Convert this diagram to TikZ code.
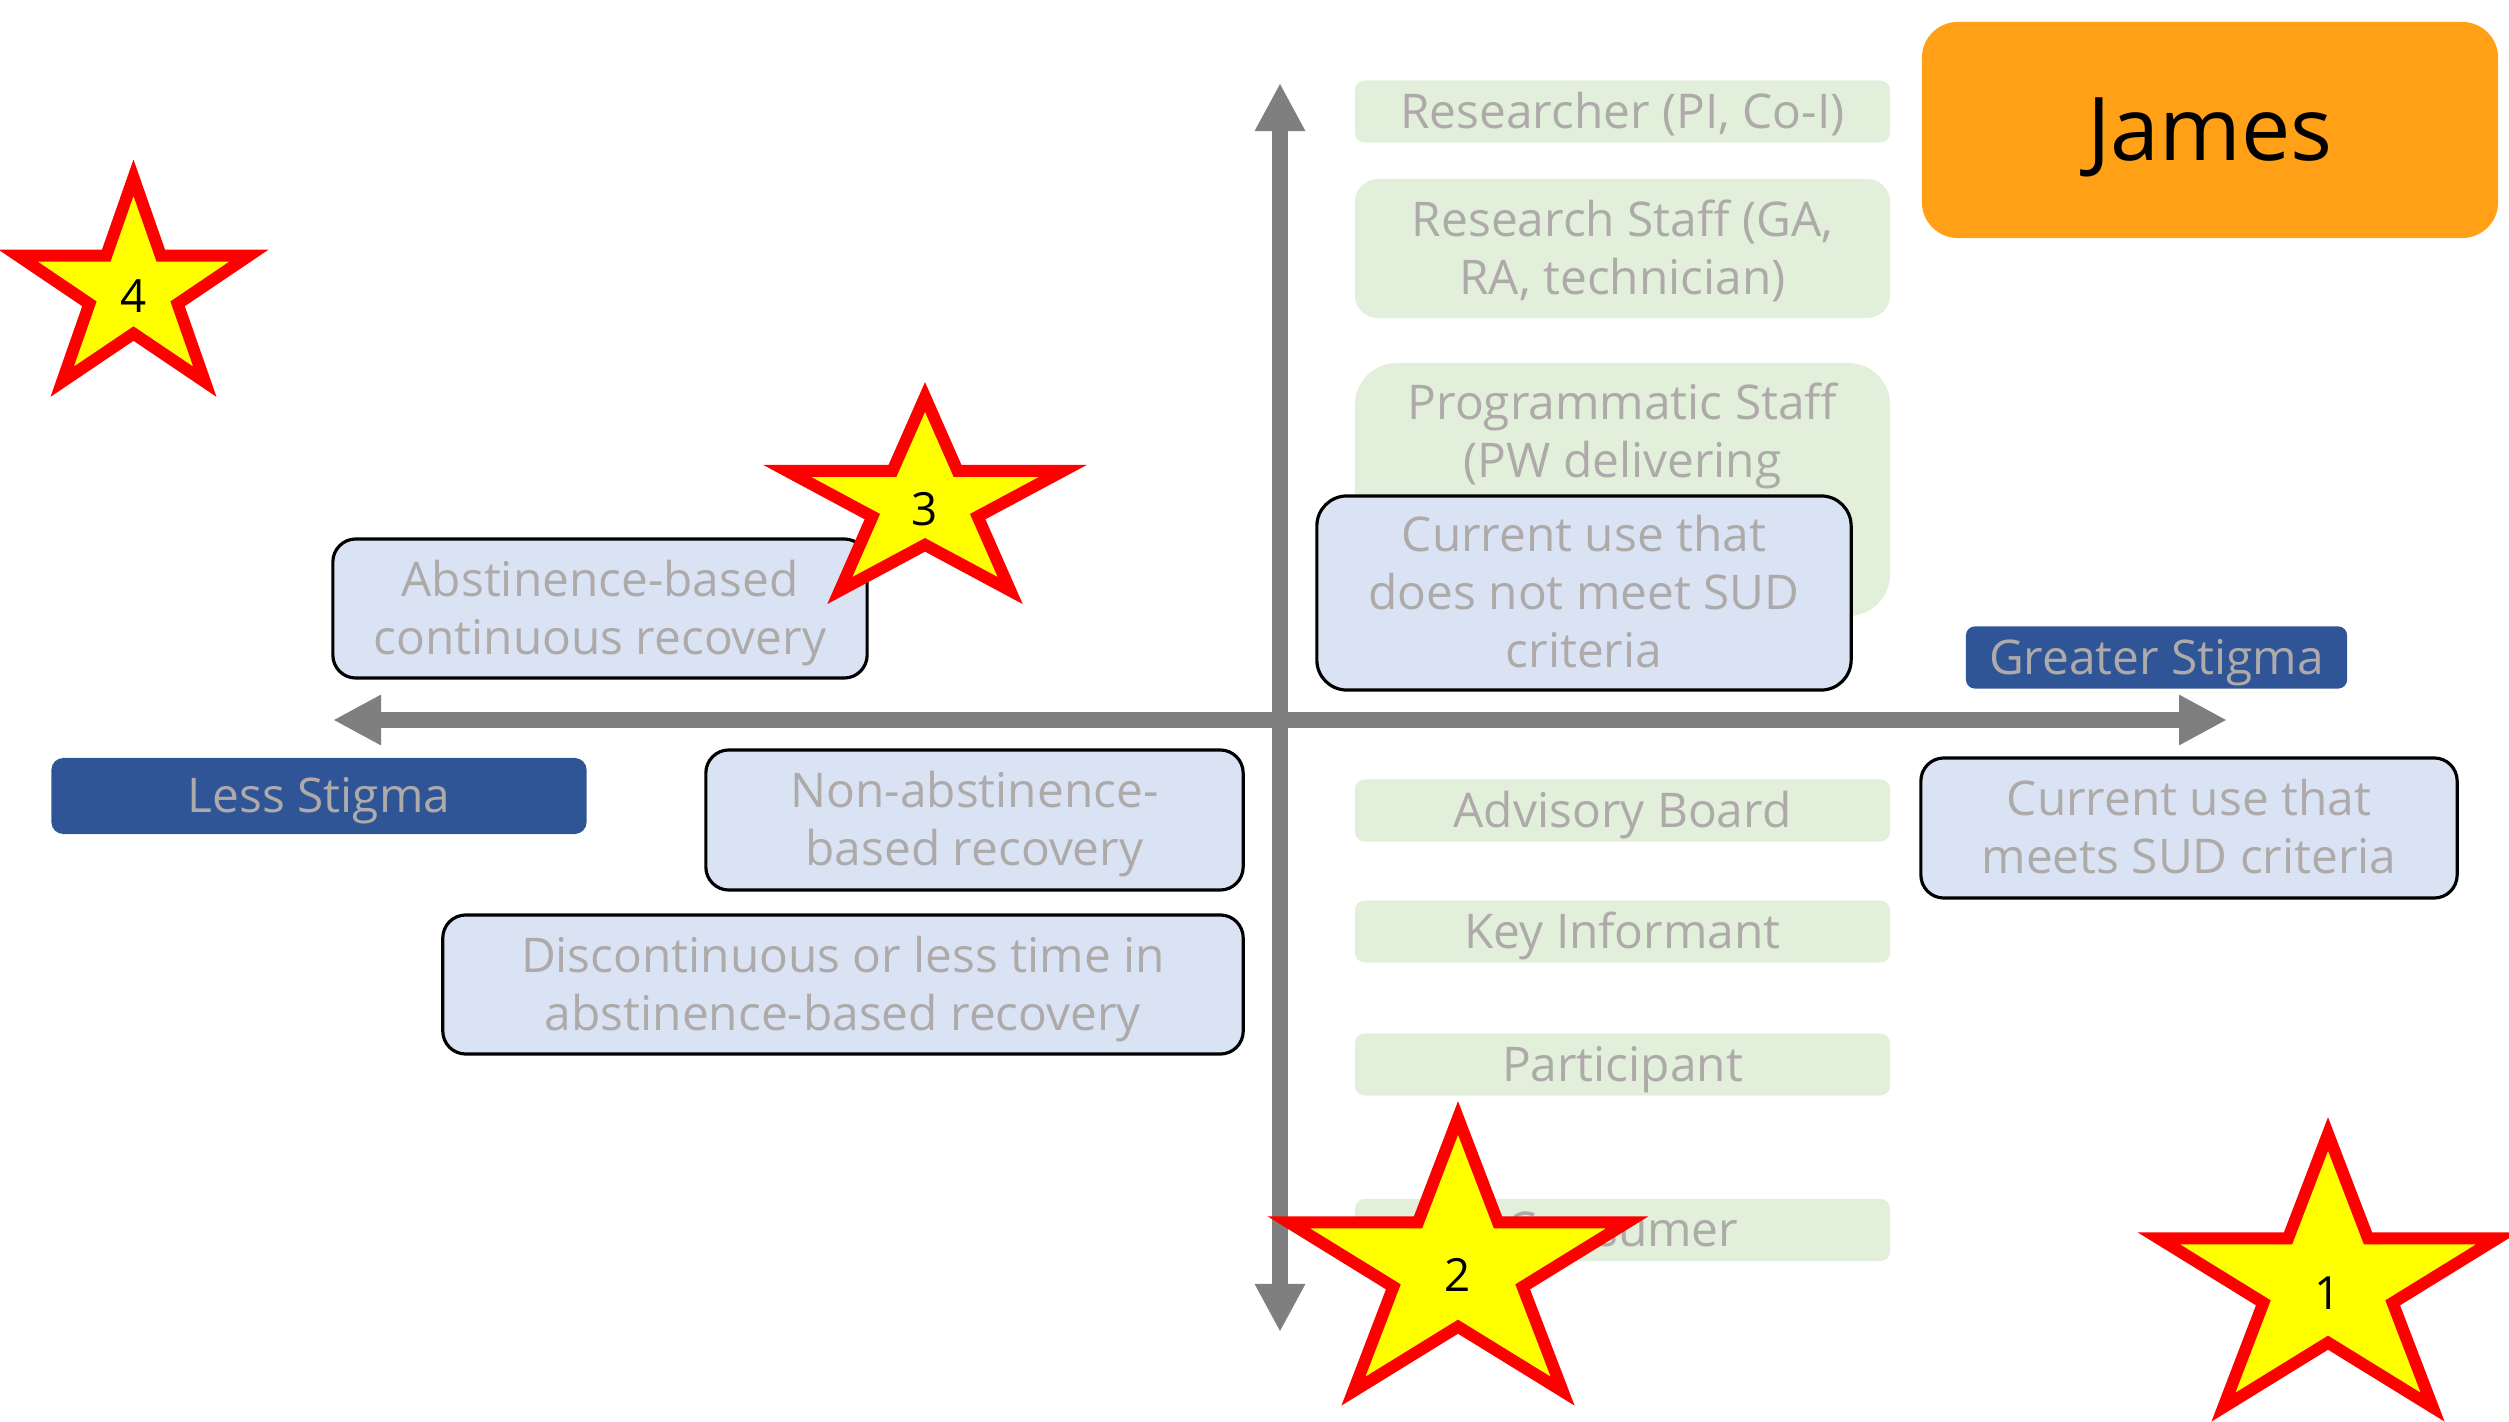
\documentclass[tikz,border=0pt]{standalone}
\usepackage{fontspec}
\setmainfont{Open Sans}
\usetikzlibrary{arrows.meta}
\definecolor{grn}{HTML}{E2EFDA}
\definecolor{lblue}{HTML}{DAE3F3}
\definecolor{dblue}{HTML}{2F5597}
\definecolor{txtgray}{HTML}{AEAAAA}
\definecolor{axgray}{HTML}{7F7F7F}
\definecolor{orng}{HTML}{FFA016}
\definecolor{stary}{HTML}{FFFF00}
\definecolor{starr}{HTML}{FF0000}
\newcommand{\as}{\rule{0pt}{1.0em}}
\newcommand{\ds}{\rule[-0.3em]{0pt}{0.3em}}
\tikzset{
  basebox/.style={rectangle, inner sep=0pt, align=center, text=txtgray,
    font=\fontsize{13.6}{16.5}\selectfont},
  gbox/.style={basebox, fill=grn},
  bbox/.style={basebox, fill=lblue, draw=black, line width=0.9pt},
  dbox/.style={basebox, fill=dblue},
  axisline/.style={draw=axgray, line width=0.16cm,
    {Triangle[length=0.48cm, width=0.47cm]}-{Triangle[length=0.48cm, width=0.47cm]}},
  starsty/.style={fill=stary, draw=starr, line width=0.12cm, line join=miter},
  starlbl/.style={inner sep=0pt, text=black, font=\fontsize{13}{15}\selectfont}
}
\newcommand{\mystarshape}[4]{% cx, cy, Rx, Ry
  \path[starsty] ({#1},{#2-#4})
    foreach \k in {0,...,4} {
      -- ({#1+0.382*#3*cos(126+72*\k)},{#2-0.382*#4*sin(126+72*\k)})
      -- ({#1+#3*cos(162+72*\k)},{#2-#4*sin(162+72*\k)})
    } -- cycle;
}
\begin{document}
\begin{tikzpicture}[x=0.01cm, y=-0.01cm]
\useasboundingbox (0,0) rectangle (2509,1422);

% axes
\coordinate (xl) at (333,720);
\coordinate (xr) at (2227,720);
\coordinate (yt) at (1280,83);
\coordinate (yb) at (1280,1332);
\draw[axisline] (xl) -- (xr);
\draw[axisline] (yb) -- (yt);

% green role boxes
\node[gbox, minimum width=5.35cm, minimum height=0.59cm, rounded corners=0.1cm] (res) at (1622.5,111.5) {\as Researcher (PI, Co-I)\ds};
\node[gbox, minimum width=5.35cm, minimum height=1.39cm, rounded corners=0.23cm] (rstaff) at (1622.5,248.5) {\as Research Staff (GA,\\RA, technician)\ds};
\node[gbox, minimum width=5.35cm, minimum height=2.53cm, rounded corners=0.42cm] (prog) at (1622.5,489.5) {};
\node[basebox] (progtxt) at (1622.5,432) {\as Programmatic Staff\\(PW delivering\ds};
\node[gbox, minimum width=5.35cm, minimum height=0.59cm, rounded corners=0.1cm] (adv) at (1622.5,810.5) {\as Advisory Board\ds};
\node[gbox, minimum width=5.35cm, minimum height=0.59cm, rounded corners=0.1cm] (key) at (1622.5,931.5) {\as Key Informant\ds};
\node[gbox, minimum width=5.35cm, minimum height=0.59cm, rounded corners=0.1cm] (part) at (1622.5,1064.5) {\as Participant\ds};
\node[gbox, minimum width=5.35cm, minimum height=0.59cm, rounded corners=0.1cm] (cons) at (1622.5,1230) {\as Consumer\ds};

% blue boxes
\node[bbox, minimum width=5.34cm, minimum height=1.94cm, rounded corners=0.3cm] (cur1) at (1584,593) {\as Current use that\\does not meet SUD\\criteria\ds};
\node[bbox, minimum width=5.34cm, minimum height=1.39cm, rounded corners=0.23cm] (abst) at (600,608.5) {\as Abstinence-based\\continuous recovery\ds};
\node[bbox, minimum width=5.37cm, minimum height=1.40cm, rounded corners=0.23cm] (nonab) at (974.5,820) {\as Non-abstinence-\\based recovery\ds};
\node[bbox, minimum width=8.00cm, minimum height=1.39cm, rounded corners=0.23cm] (disc) at (843,984.5) {\as Discontinuous or less time in\\abstinence-based recovery\ds};
\node[bbox, minimum width=5.36cm, minimum height=1.40cm, rounded corners=0.23cm] (cur2) at (2189,828) {\as Current use that\\meets SUD criteria\ds};

% stigma labels
\node[dbox, minimum width=5.35cm, minimum height=0.76cm, rounded corners=0.12cm] (less) at (319,796) {\as Less Stigma\ds};
\node[dbox, minimum width=3.81cm, minimum height=0.57cm, rounded corners=0.09cm] (greater) at (2156.5,657.5) {\as Greater Stigma\ds};

% name box
\node[rectangle, fill=orng, minimum width=5.76cm, minimum height=2.16cm, rounded corners=0.36cm, inner sep=0pt, font=\fontsize{25}{30}\selectfont, text=black] (james) at (2210,130) {\as James\ds};

% stars
\mystarshape{133.5}{290.5}{121.4}{112.8}
\node[starlbl] (s4) at (133.5,296) {4};
\mystarshape{925}{504}{145}{107}
\node[starlbl] (s3) at (925,509) {3};
\mystarshape{1458}{1269}{178}{151}
\node[starlbl] (s2) at (1458,1275) {2};
\mystarshape{2328}{1285}{178}{151}
\node[starlbl] (s1) at (2328,1293) {1};
\end{tikzpicture}
\end{document}
